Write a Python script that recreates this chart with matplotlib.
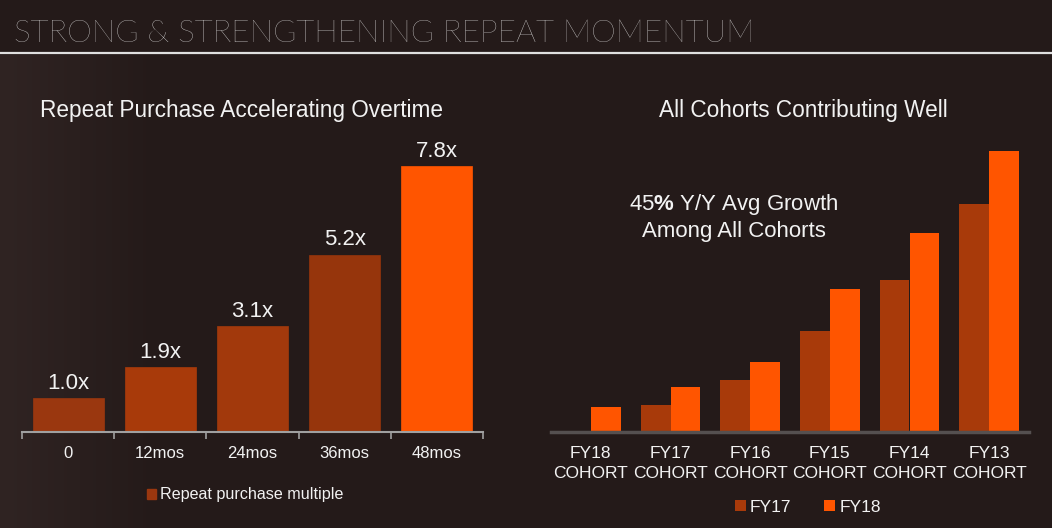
import matplotlib.pyplot as plt
import matplotlib.patches as mpatches
import numpy as np

W, H = 1052, 528

# left chart data
periods = ['0', '12mos', '24mos', '36mos', '48mos']
multiples = [1.0, 1.9, 3.1, 5.2, 7.8]
mult_colors = ['#9A370F', '#A83A0A', '#A2390C', '#96350C', '#FF5500']

# right chart data (relative heights)
cohorts = ['FY18\nCOHORT', 'FY17\nCOHORT', 'FY16\nCOHORT', 'FY15\nCOHORT', 'FY14\nCOHORT', 'FY13\nCOHORT']
fy17 = [0, 27, 52, 101, 152, 228]
fy18 = [25, 45, 70, 143, 199, 281]

bg = '#241A19'
c17 = '#A83A0A'
c18 = '#FF5500'
txt = '#F2F2F2'

plt.rcParams['font.family'] = ['Liberation Sans', 'DejaVu Sans']
plt.rcParams['mathtext.fontset'] = 'custom'
plt.rcParams['mathtext.bf'] = 'Liberation Sans:bold'
plt.rcParams['mathtext.rm'] = 'Liberation Sans'

fig = plt.figure(figsize=(W / 100, H / 100), dpi=100)
fig.patch.set_facecolor(bg)

# subtle lighter texture on the left side
bgax = fig.add_axes([0, 0, 1, 1])
bgax.set_xlim(0, W)
bgax.set_ylim(H, 0)
bgax.axis('off')
grad = np.linspace(1, 0, 200)[None, :]
bgax.imshow(grad, extent=[0, 160, H, 55], aspect='auto', cmap=plt.matplotlib.colors.LinearSegmentedColormap.from_list('g', [bg, '#302423']), zorder=0)


def px(x0, y0, x1, y1):
    return [x0 / W, 1 - y1 / H, (x1 - x0) / W, (y1 - y0) / H]


# header
fig.text(14 / W, 1 - 34 / H, 'STRONG & STRENGTHENING REPEAT MOMENTUM', color='#ECECEC',
         fontsize=22.7, family=['Lato', 'DejaVu Sans'], fontweight='light', va='center', ha='left')
bgax.plot([0, W], [52.5, 52.5], color='#E0E0E0', lw=1.6)

# left chart
ax1 = fig.add_axes(px(22, 142, 483, 432))
ax1.set_facecolor('none')
x = np.arange(len(periods))
bars = ax1.bar(x, multiples, width=0.77, color=mult_colors, edgecolor=mult_colors, linewidth=0.5)
for xi, v in zip(x, multiples):
    ax1.text(xi, v + 0.12, f'{v:.1f}x', ha='center', va='bottom', color=txt, fontsize=16)
ax1.set_xlim(-0.5, len(periods) - 0.5)
ax1.set_ylim(0, 8.5)
ax1.set_yticks([])
ax1.set_xticks(x)
ax1.set_xticklabels(periods, color=txt, fontsize=12)
ax1.tick_params(axis='x', which='major', length=0, pad=10)
ax1.set_xticks(np.arange(len(periods) + 1) - 0.5, minor=True)
ax1.tick_params(axis='x', which='minor', length=5, color='#A0A0A0', width=1.2)
for s in ['top', 'right', 'left']:
    ax1.spines[s].set_visible(False)
ax1.spines['bottom'].set_color('#A0A0A0')
ax1.spines['bottom'].set_linewidth(1.5)
fig.text(242 / W, 1 - 111 / H, 'Repeat Purchase Accelerating Overtime', color=txt,
         fontsize=16.3, ha='center', va='center')
fig.legend(handles=[mpatches.Patch(color=mult_colors[0], label='Repeat purchase multiple')],
           loc='center left', bbox_to_anchor=(132 / W, 1 - 495 / H), frameon=False,
           fontsize=11.6, labelcolor=txt, handlelength=0.6, handleheight=0.6, handletextpad=0.25)

# right chart
ax2 = fig.add_axes(px(551, 142, 1029, 432))
ax2.set_facecolor('none')
x2 = np.arange(len(cohorts))
bw = 0.376
ax2.bar(x2 - bw / 2, fy17, width=bw, color=c17, label='FY17')
ax2.bar(x2 + bw / 2, fy18, width=bw, color=c18, label='FY18')
ax2.set_xlim(-0.5, len(cohorts) - 0.5)
ax2.set_ylim(0, 290)
ax2.set_yticks([])
ax2.set_xticks(x2)
ax2.set_xticklabels(cohorts, color=txt, fontsize=12.5, linespacing=1.4)
ax2.tick_params(axis='x', length=0, pad=10)
for s in ['top', 'right', 'left']:
    ax2.spines[s].set_visible(False)
ax2.spines['bottom'].set_color('#555050')
ax2.spines['bottom'].set_linewidth(2.5)
ax2.text((734 - 551) / 478, (432 - 217) / 290, '45$\\mathbf{\\%}$ Y/Y Avg Growth\nAmong All Cohorts',
         transform=ax2.transAxes, ha='center', va='center', color=txt, fontsize=16, linespacing=1.2)
fig.text(803 / W, 1 - 111 / H, 'All Cohorts Contributing Well', color=txt,
         fontsize=16.3, ha='center', va='center')
ax2.legend(loc='center', bbox_to_anchor=((808 - 551) / (1029 - 551), (432 - 507) / 290),
           ncol=2, frameon=False, fontsize=12.5, labelcolor=txt, handlelength=0.6,
           handleheight=0.6, handletextpad=0.25, columnspacing=1.9)

fig.savefig('out.png', dpi=100, facecolor=bg)
